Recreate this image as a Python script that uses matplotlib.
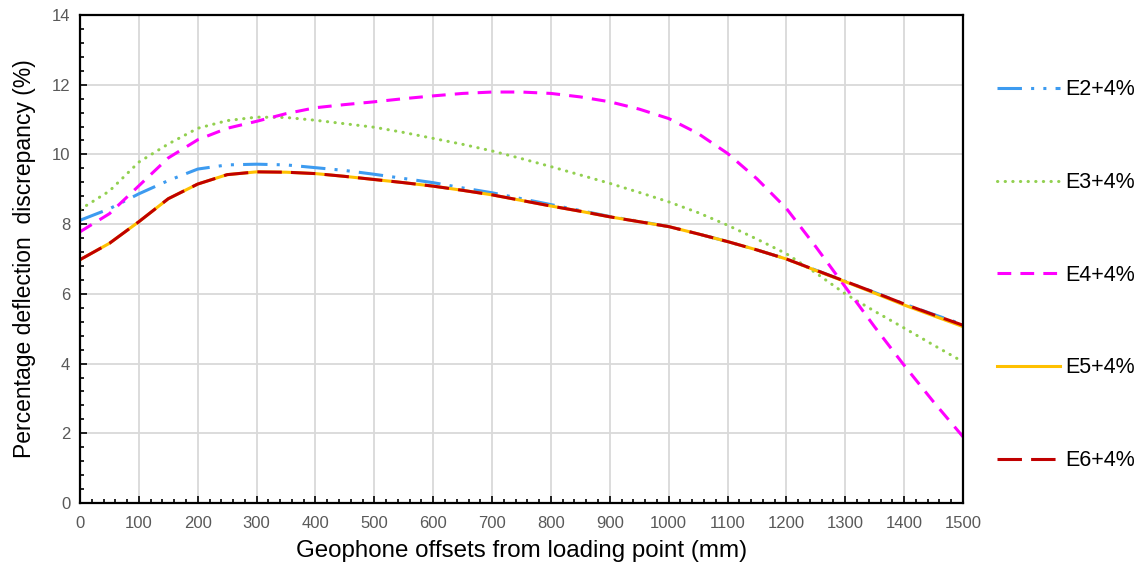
import numpy as np
import matplotlib
matplotlib.use('Agg')
import matplotlib.pyplot as plt
from matplotlib.ticker import MultipleLocator

plt.rcParams['font.family'] = ['Liberation Sans', 'DejaVu Sans']

# === DATA ===
offsets = np.arange(0, 1501, 50)

e2 = [8.11, 8.44, 8.87, 9.25, 9.58, 9.70, 9.72, 9.70, 9.62, 9.54, 9.43,
      9.31, 9.19, 9.04, 8.90, 8.73, 8.56, 8.39, 8.22, 8.08, 7.93,
      7.72, 7.50, 7.26, 7.00, 6.68, 6.36, 6.04, 5.71, 5.41, 5.12]
e3 = [8.42, 8.95, 9.78, 10.30, 10.75, 10.97, 11.07, 11.06, 10.98, 10.88, 10.78,
      10.63, 10.46, 10.29, 10.10, 9.88, 9.65, 9.41, 9.17, 8.91, 8.64,
      8.33, 7.97, 7.57, 7.15, 6.60, 6.00, 5.50, 5.02, 4.53, 4.05]
e4 = [7.78, 8.30, 9.10, 9.90, 10.42, 10.75, 10.95, 11.17, 11.34, 11.43, 11.51,
      11.60, 11.68, 11.75, 11.79, 11.79, 11.75, 11.65, 11.51, 11.30, 11.03,
      10.60, 10.03, 9.30, 8.45, 7.35, 6.20, 5.05, 3.95, 2.90, 1.90]
e5 = [6.98, 7.45, 8.07, 8.73, 9.15, 9.42, 9.50, 9.49, 9.45, 9.37, 9.28,
      9.19, 9.09, 8.97, 8.84, 8.68, 8.52, 8.37, 8.21, 8.07, 7.93,
      7.72, 7.50, 7.26, 7.00, 6.67, 6.35, 6.02, 5.68, 5.37, 5.06]
e6 = [6.98, 7.45, 8.07, 8.73, 9.15, 9.42, 9.50, 9.49, 9.45, 9.37, 9.28,
      9.19, 9.09, 8.97, 8.84, 8.68, 8.52, 8.37, 8.21, 8.07, 7.93,
      7.72, 7.50, 7.26, 7.00, 6.68, 6.36, 6.04, 5.71, 5.40, 5.10]

labels = ['E2+4%', 'E3+4%', 'E4+4%', 'E5+4%', 'E6+4%']

# --- plot ---
fig = plt.figure(figsize=(11.45, 5.8), dpi=100)
ax = fig.add_axes([80/1145, 1 - 503/580, (963 - 80)/1145, (503 - 15)/580])

lw = 2.2
ax.plot(offsets, e2, color='#3d9bf0', lw=lw, dashes=(8, 3, 1, 3, 1, 3), label=labels[0])
ax.plot(offsets, e3, color='#92d050', lw=lw, dashes=(0.1, 2.4),
        dash_capstyle='round', label=labels[1])
ax.plot(offsets, e4, color='#ff00ff', lw=lw, dashes=(4.5, 3), label=labels[2])
ax.plot(offsets, e5, color='#ffc000', lw=lw, label=labels[3])
ax.plot(offsets, e6, color='#c00000', lw=lw, dashes=(8, 3), label=labels[4])

ax.set_xlim(0, 1500)
ax.set_ylim(0, 14)
ax.xaxis.set_major_locator(MultipleLocator(100))
ax.xaxis.set_minor_locator(MultipleLocator(20))
ax.yaxis.set_major_locator(MultipleLocator(2))
ax.yaxis.set_minor_locator(MultipleLocator(0.4))
ax.grid(True, which='major', color='#d9d9d9', lw=1.3)
ax.set_axisbelow(True)

ax.tick_params(which='both', direction='in', top=False, right=False,
               labelsize=12, labelcolor='#595959', color='black')
ax.tick_params(which='major', length=5, width=1.2)
ax.tick_params(axis='x', which='major', pad=9)
ax.tick_params(axis='y', which='major', pad=7)
ax.tick_params(which='minor', length=3, width=1.2)
for s in ax.spines.values():
    s.set_linewidth(1.6)
    s.set_color('black')

ax.set_xlabel('Geophone offsets from loading point (mm)', fontsize=17.4, labelpad=7)
ax.set_ylabel('Percentage deflection  discrepancy (%)', fontsize=16.5, labelpad=11)

fig.legend(loc='upper left', bbox_to_anchor=(978/1145, 1 - 60/580), frameon=False,
           fontsize=15.5, labelspacing=3.33, handlelength=2.9, handletextpad=0.25)

plt.savefig('out.png', dpi=100)
